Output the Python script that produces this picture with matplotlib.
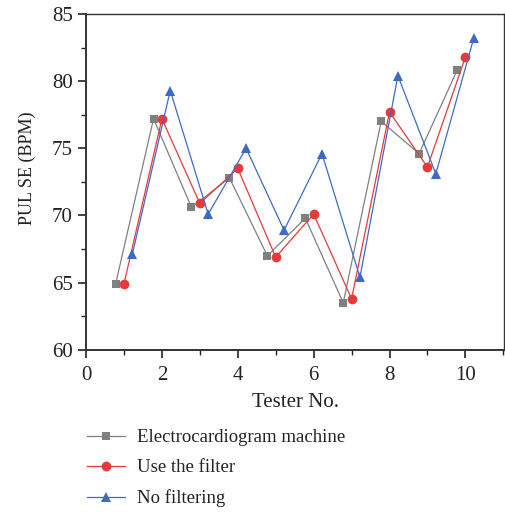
import matplotlib
matplotlib.use("Agg")
import matplotlib.pyplot as plt
from matplotlib.ticker import MultipleLocator

plt.rcParams['font.family'] = ['Liberation Serif', 'DejaVu Serif']

testers = [1, 2, 3, 4, 5, 6, 7, 8, 9, 10]
ecg = [64.9, 77.2, 70.6, 72.8, 67.0, 69.8, 63.5, 77.0, 74.6, 80.8]
filtered = [64.9, 77.2, 70.9, 73.5, 66.9, 70.1, 63.8, 77.7, 73.6, 81.8]
unfiltered = [67.1, 79.3, 70.1, 75.0, 68.9, 74.6, 65.4, 80.4, 73.1, 83.2]
labels = ["Electrocardiogram machine", "Use the filter", "No filtering"]

fig = plt.figure(figsize=(5.06, 5.16), dpi=100)
ax = fig.add_axes([0.170, 0.322, 0.827, 0.651])

series = [
    (ecg, -0.22, '#808080', 's', 6.0),
    (filtered, 0.0, '#e8393a', 'o', 7.0),
    (unfiltered, 0.22, '#3d6bc4', '^', 7.5),
]
for (vals, off, col, mk, ms), lab in zip(series, labels):
    xs = [t + off for t in testers]
    ax.plot(xs, vals, color=col, marker=mk, markersize=ms, linewidth=0.9,
            label=lab, markeredgewidth=0)

ax.set_xlim(0, 11.03)
ax.set_ylim(60, 85)
ax.xaxis.set_major_locator(MultipleLocator(2))
ax.xaxis.set_minor_locator(MultipleLocator(1))
ax.yaxis.set_major_locator(MultipleLocator(5))
ax.yaxis.set_minor_locator(MultipleLocator(2.5))
ax.tick_params(which='major', direction='out', length=6, width=1.2, labelsize=15, colors='#222222')
ax.tick_params(axis='x', which='major', pad=5.5)
ax.tick_params(axis='y', which='major', pad=3.5)
ax.tick_params(which='minor', direction='out', length=3.5, width=1.0, colors='#222222')
ax.tick_params(top=False, right=False, which='both')
for s in ax.spines.values():
    s.set_color('#333333')
    s.set_linewidth(1.0)
ax.spines['left'].set_linewidth(1.4)
ax.spines['bottom'].set_linewidth(1.4)

ax.set_xlabel("Tester No.", fontsize=15, labelpad=6, color='#222222')
ax.set_ylabel("PUL SE (BPM)", fontsize=13, labelpad=8, color='#222222')
ax.yaxis.set_label_coords(-0.12, 0.54)

leg = fig.legend(loc='upper left', bbox_to_anchor=(0.158, 0.183), frameon=False,
                 fontsize=13.5, handlelength=2.0, handletextpad=0.65,
                 labelspacing=0.7, borderaxespad=0)
for t in leg.get_texts():
    t.set_color('#222222')

fig.savefig("out.png", dpi=100)
